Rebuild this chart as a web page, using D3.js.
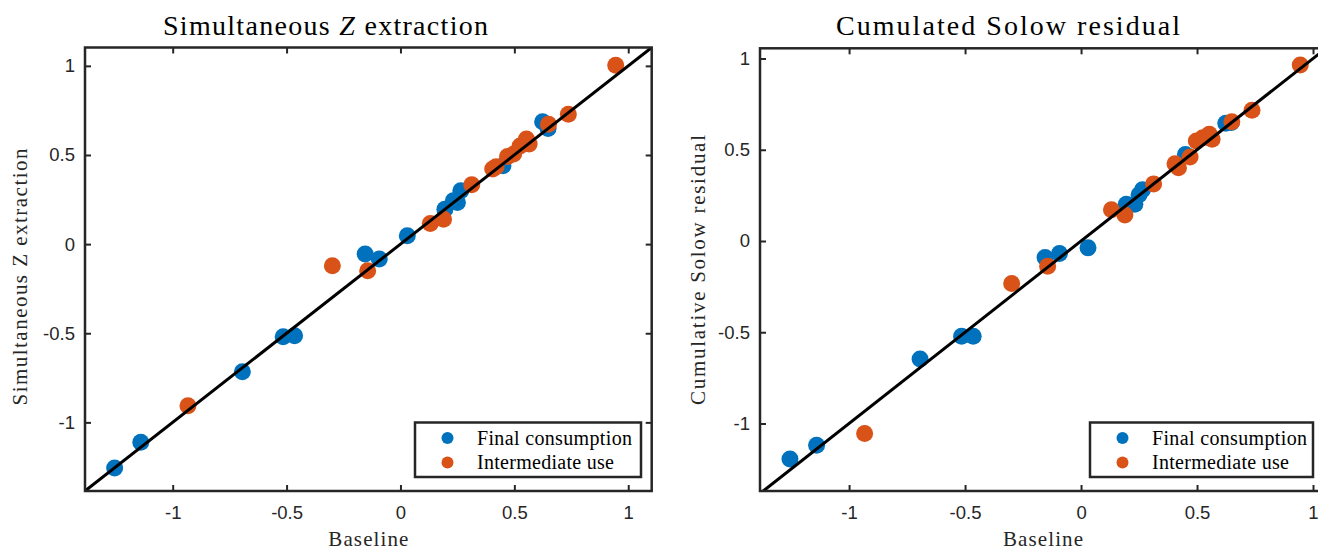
<!DOCTYPE html>
<html>
<head>
<meta charset="utf-8">
<script src="https://cdn.jsdelivr.net/npm/d3@7"></script>
<style>
  html, body { margin: 0; padding: 0; background: #fff; }
  svg { display: block; }
</style>
</head>
<body>
<svg id="chart" width="1318" height="550"></svg>
<script>
// ---------- data ----------
const seriesNames = ["Final consumption", "Intermediate use"];
const tickValues = [-1, -0.5, 0, 0.5, 1];
const tickLabels = ["-1", "-0.5", "0", "0.5", "1"];

// Baseline values (shared x)
const finalBaseline = [-1.255, -1.140, -0.694, -0.515, -0.465, -0.155, -0.093, 0.030, 0.195, 0.232, 0.250, 0.265, 0.450, 0.624, 0.648];
const interBaseline = [-0.933, -0.299, -0.144, 0.131, 0.189, 0.313, 0.405, 0.420, 0.470, 0.497, 0.525, 0.553, 0.565, 0.650, 0.737, 0.945];

// Simultaneous Z extraction
const finalZ = [-1.256, -1.112, -0.716, -0.520, -0.514, -0.056, -0.084, 0.047, 0.196, 0.243, 0.234, 0.299, 0.440, 0.686, 0.649];
const interZ = [-0.907, -0.121, -0.150, 0.116, 0.140, 0.333, 0.421, 0.434, 0.492, 0.505, 0.551, 0.589, 0.561, 0.673, 0.729, 1.004];

// Cumulated Solow residual
const finalSolow = [-1.195, -1.119, -0.647, -0.522, -0.522, -0.090, -0.068, -0.037, 0.202, 0.202, 0.254, 0.281, 0.474, 0.645, 0.650];
const interSolow = [-1.055, -0.233, -0.138, 0.171, 0.143, 0.313, 0.423, 0.401, 0.460, 0.548, 0.566, 0.585, 0.557, 0.654, 0.717, 0.965];

// ---------- layout ----------
const colors = ["#0072BD", "#D95319"];
const axisColor = "#262626";
const serif = "'Liberation Serif', 'DejaVu Serif', serif";
const sans = "'Liberation Sans', Arial, Helvetica, sans-serif";

const svg = d3.select("#chart");

const panels = [
  {
    id: "p1",
    titleParts: [["Simultaneous ", false], ["Z", true], [" extraction", false]],
    titleLen: 325,
    ylabel: "Simultaneous Z extraction", ylabelLen: 257,
    left: 85, right: 651.7, top: 47.5, bottom: 491,
    xDomain: [-1.385, 1.103], yDomain: [-1.385, 1.103],
    titleX: 325.5, ylabelX: 27, ylabelY: 277,
    legend: { x: 415, y: 422.5, w: 226, h: 54.5 },
    data: [
      { xs: finalBaseline, ys: finalZ },
      { xs: interBaseline, ys: interZ }
    ]
  },
  {
    id: "p2",
    titleParts: [["Cumulated Solow residual", false]],
    titleLen: 344,
    ylabel: "Cumulative Solow residual", ylabelLen: 270,
    left: 760, right: 1326, top: 48.3, bottom: 491,
    xDomain: [-1.384, 1.056], yDomain: [-1.37, 1.056],
    titleX: 1008, ylabelX: 705, ylabelY: 270,
    legend: { x: 1090, y: 422.5, w: 223, h: 54.5 },
    data: [
      { xs: finalBaseline, ys: finalSolow },
      { xs: interBaseline, ys: interSolow }
    ]
  }
];

const titleSize = 28, labelSize = 21, legendSize = 20, tickSize = 18.5;
const legendLens = [155, 137];

panels.forEach(p => {
  const x = d3.scaleLinear().domain(p.xDomain).range([p.left, p.right]);
  const y = d3.scaleLinear().domain(p.yDomain).range([p.bottom, p.top]);
  const g = svg.append("g");

  g.append("clipPath").attr("id", "clip-" + p.id)
    .append("rect")
    .attr("x", p.left).attr("y", p.top)
    .attr("width", p.right - p.left).attr("height", p.bottom - p.top);

  // axes with inward ticks on all four sides
  const tickLen = 6;
  const bottomAxis = d3.axisBottom(x).tickValues(tickValues).tickFormat((d, i) => tickLabels[i]).tickSizeInner(-tickLen).tickSizeOuter(0).tickPadding(15);
  const topAxis = d3.axisTop(x).tickValues(tickValues).tickFormat("").tickSizeInner(-tickLen).tickSizeOuter(0);
  const leftAxis = d3.axisLeft(y).tickValues(tickValues).tickFormat((d, i) => tickLabels[i]).tickSizeInner(-tickLen).tickSizeOuter(0).tickPadding(10);
  const rightAxis = d3.axisRight(y).tickValues(tickValues).tickFormat("").tickSizeInner(-tickLen).tickSizeOuter(0);

  const axes = [
    g.append("g").attr("transform", `translate(0,${p.bottom})`).call(bottomAxis),
    g.append("g").attr("transform", `translate(0,${p.top})`).call(topAxis),
    g.append("g").attr("transform", `translate(${p.left},0)`).call(leftAxis),
    g.append("g").attr("transform", `translate(${p.right},0)`).call(rightAxis)
  ];
  axes.forEach(a => {
    a.select(".domain").remove();
    a.selectAll(".tick line").attr("stroke", axisColor).attr("stroke-width", 2);
    a.selectAll(".tick text").attr("fill", axisColor).style("font-family", sans).style("font-size", tickSize + "px");
  });

  // points
  const pts = g.append("g").attr("clip-path", `url(#clip-${p.id})`);
  p.data.forEach((s, si) => {
    pts.append("g").selectAll("circle")
      .data(s.xs.map((v, i) => [v, s.ys[i]]))
      .join("circle")
      .attr("cx", d => x(d[0]))
      .attr("cy", d => y(d[1]))
      .attr("r", 8.5)
      .attr("fill", colors[si]);
  });

  // 45 degree line
  const lo = Math.min(p.xDomain[0], p.yDomain[0]), hi = Math.max(p.xDomain[1], p.yDomain[1]);
  pts.append("line")
    .attr("x1", x(lo)).attr("y1", y(lo))
    .attr("x2", x(hi)).attr("y2", y(hi))
    .attr("stroke", "#000").attr("stroke-width", 3);

  // box
  g.append("rect")
    .attr("x", p.left).attr("y", p.top)
    .attr("width", p.right - p.left).attr("height", p.bottom - p.top)
    .attr("fill", "none").attr("stroke", axisColor).attr("stroke-width", 2.5);

  // title
  const t = g.append("text")
    .attr("x", p.titleX).attr("y", 35)
    .attr("text-anchor", "middle")
    .attr("fill", "#000")
    .attr("textLength", p.titleLen).attr("lengthAdjust", "spacing")
    .style("font-family", serif).style("font-size", titleSize + "px");
  p.titleParts.forEach(tp => {
    t.append("tspan").text(tp[0]).style("font-style", tp[1] ? "italic" : "normal");
  });

  // xlabel
  g.append("text")
    .attr("x", (p.left + p.right) / 2).attr("y", 546)
    .attr("text-anchor", "middle").attr("fill", axisColor)
    .attr("textLength", 80).attr("lengthAdjust", "spacing")
    .style("font-family", serif).style("font-size", labelSize + "px")
    .text("Baseline");

  // ylabel
  g.append("text")
    .attr("transform", `translate(${p.ylabelX},${p.ylabelY}) rotate(-90)`)
    .attr("text-anchor", "middle").attr("fill", axisColor)
    .attr("textLength", p.ylabelLen).attr("lengthAdjust", "spacing")
    .style("font-family", serif).style("font-size", labelSize + "px")
    .text(p.ylabel);

  // legend
  const L = p.legend;
  const lg = g.append("g");
  lg.append("rect")
    .attr("x", L.x).attr("y", L.y).attr("width", L.w).attr("height", L.h)
    .attr("fill", "#fff").attr("stroke", axisColor).attr("stroke-width", 2.5);
  seriesNames.forEach((name, i) => {
    const cy = L.y + 15.5 + i * 24.5;
    lg.append("circle").attr("cx", L.x + 32.5).attr("cy", cy).attr("r", 6).attr("fill", colors[i]);
    lg.append("text")
      .attr("x", L.x + 62).attr("y", cy + 6.5)
      .attr("fill", "#000")
      .attr("textLength", legendLens[i]).attr("lengthAdjust", "spacing")
      .style("font-family", serif).style("font-size", legendSize + "px")
      .text(name);
  });
});
</script>
</body>
</html>
